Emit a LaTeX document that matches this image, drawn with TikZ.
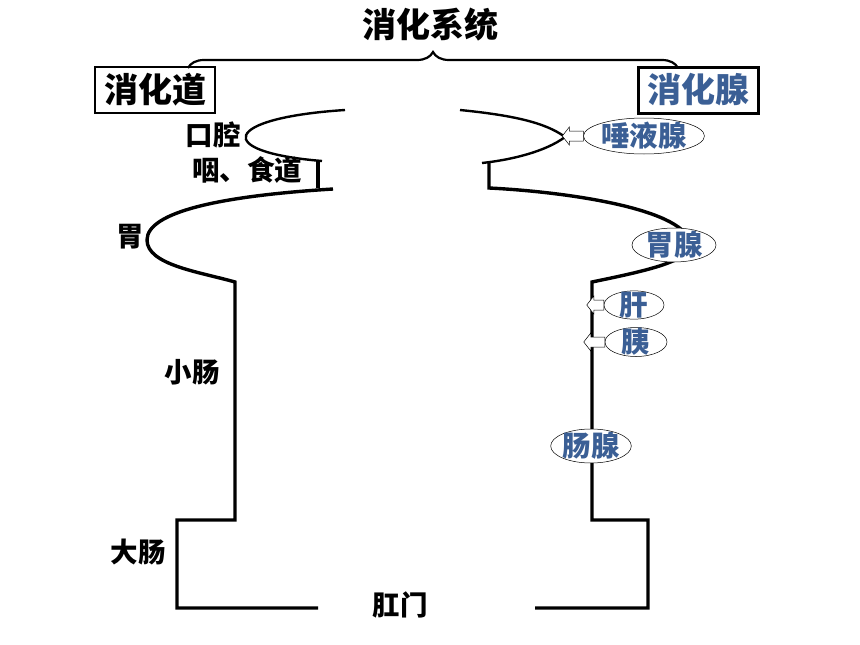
\documentclass[tikz,border=0pt]{standalone}
\usepackage{fontspec}
\setmainfont{Noto Sans CJK SC}
\usepackage{tikz}
\usetikzlibrary{shapes.geometric,decorations.pathreplacing}

\definecolor{glandblue}{RGB}{59,95,149}
\tikzset{
  head/.style={font=\fontsize{34}{36}\selectfont\bfseries, inner sep=0pt},
  organ/.style={font=\fontsize{27.5}{29}\selectfont\bfseries, inner sep=0pt},
  gland/.style={ellipse, draw, line width=0.5pt, fill=white, text=glandblue,
    font=\fontsize{28.5}{30}\selectfont\bfseries, inner sep=0pt, text height=20pt, text depth=0pt},
  wall/.style={line width=3.4pt},
  lip/.style={line width=2.4pt},
  hollow/.style={draw, fill=white, line width=0.5pt, line join=miter}
}

\begin{document}
\begin{tikzpicture}[x=1pt,y=-1pt]
        \useasboundingbox (0,0) rectangle (860,645);
        \node[head] (sys) at (430,25) {消化系统};
        \node[head, draw, line width=2pt, minimum width=120pt, minimum height=46pt] (tract) at (155,90) {消化道};
        \node[head, draw, line width=3pt, text=glandblue, minimum width=120pt, minimum height=46pt] (glands) at (698,90) {消化腺};
        \draw[line width=2.2pt, decorate, decoration={brace, amplitude=16pt}] (188,68) -- (678,68);

        \node[organ] (mouth) at (213,135) {口腔};
        \node[organ] (throat) at (247,170) {咽、食道};
        \node[organ] (stomach) at (130,237) {胃};
        \node[organ] (small) at (192,372) {小肠};
        \node[organ] (large) at (138,552) {大肠};
        \node[organ] (anus) at (400,605) {肛门};

        % left wall
        \draw[lip] (345,110) .. controls (222,118) and (212,152) .. (322,161);
        \draw[wall] (318,161) -- (318,188);
        \draw[wall] (333,189) .. controls (220,196) and (147,212) .. (147,240)
              .. controls (147,265) and (200,272) .. (235,282)
              -- (235,520) -- (177,520) -- (177,608) -- (318,608);
        % right wall
        \draw[lip] (460,110) .. controls (510,115) and (545,122) .. (565,137)
              .. controls (545,152) and (510,160) .. (482,163);
        \draw[wall] (489,163) -- (489,188) .. controls (570,192) and (690,210) .. (690,245)
              .. controls (690,262) and (640,272) .. (592,282)
              -- (592,520) -- (648,520) -- (648,608) -- (535,608);

        \node[gland, minimum width=118pt, minimum height=36pt] (saliva) at (644,136) {唾液腺};
        \node[gland, minimum width=84pt, minimum height=34pt] (gastric) at (674,245) {胃腺};
        \node[gland, minimum width=60pt, minimum height=28pt] (liver) at (634,305) {肝};
        \node[gland, minimum width=62pt, minimum height=29pt] (pancreas) at (636,342) {胰};
        \node[gland, minimum width=72pt, minimum height=34pt] (gut) at (591,446) {肠腺};

        \foreach \g/\l in {saliva/14, liver/10, pancreas/14}
          \draw[hollow] (\g.west) ++(0,-5) -- ++(-\l,0) -- ++(0,-4) -- ++(-7,9)
              -- ++(7,9) -- ++(0,-4) -- ++(\l,0) -- cycle;
\end{tikzpicture}
\end{document}
